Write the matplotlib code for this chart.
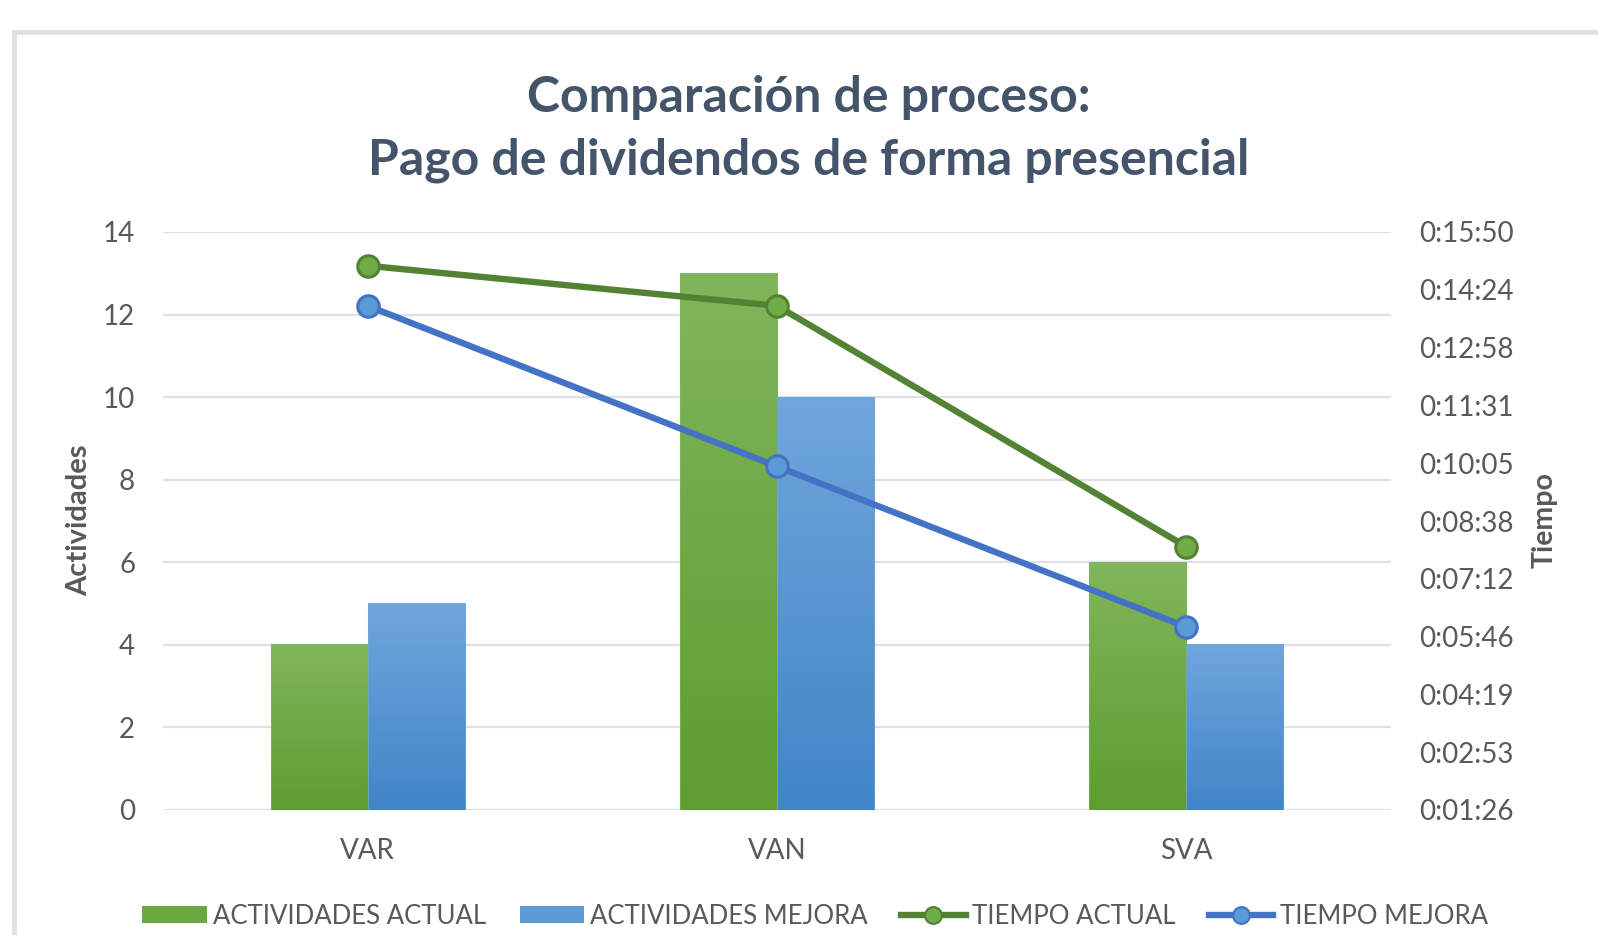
import matplotlib
matplotlib.use("Agg")
import matplotlib.pyplot as plt
from matplotlib.patches import Rectangle
from matplotlib.lines import Line2D
from matplotlib.ticker import FixedLocator, FuncFormatter
import numpy as np

categorias = ["VAR", "VAN", "SVA"]
actividades_actual = [4, 13, 6]
actividades_mejora = [5, 10, 4]
tiempo_actual = ["0:15:00", "0:14:00", "0:08:00"]
tiempo_mejora = ["0:14:00", "0:10:00", "0:06:00"]
tiempo_ticks = [0.001, 0.002, 0.003, 0.004, 0.005, 0.006, 0.007, 0.008, 0.009, 0.010, 0.011]


def a_dias(t):
    h, m, s = [int(v) for v in t.split(":")]
    return (h * 3600 + m * 60 + s) / 86400.0


def fmt_tiempo(v, pos=None):
    seg = int(round(v * 86400))
    return "%d:%02d:%02d" % (seg // 3600, (seg % 3600) // 60, seg % 60)


FONT = "Lato"
GRIS = "#595959"
TITULO = "#44546a"

plt.rcParams["font.family"] = [FONT, "DejaVu Sans"]

fig = plt.figure(figsize=(15.98, 9.35), dpi=100)
W, H = 1598, 935

# marco del grafico
fig.patches.append(Rectangle((14.5 / W, -0.1), 1.2, 1.1 - 32.5 / H,
                             transform=fig.transFigure, fill=False,
                             edgecolor="#dcdfe4", linewidth=3.5))

ax = fig.add_axes([163 / W, 1 - 810 / H, (1391 - 163) / W, (810 - 232) / H])
ax2 = ax.twinx()

x = np.arange(len(categorias))
ancho = 0.237


def barras_degradado(ax, xs, vals, c_top, c_bot):
    bars = ax.bar(xs, vals, ancho, color="none", edgecolor="none", zorder=2)
    grad = np.linspace(0, 1, 256).reshape(-1, 1)
    cmap = matplotlib.colors.LinearSegmentedColormap.from_list("g", [c_bot, c_top])
    for b in bars:
        x0, w, h = b.get_x(), b.get_width(), b.get_height()
        ax.imshow(grad, extent=[x0, x0 + w, 0, h], origin="lower", cmap=cmap,
                  aspect="auto", zorder=2)
        ax.add_patch(Rectangle((x0, 0), w, h, fill=False, edgecolor=c_top,
                               linewidth=0.8, alpha=0.6, zorder=2.1))
    return bars


barras_degradado(ax, x - ancho / 2, actividades_actual, "#80b65c", "#5e9d2f")
barras_degradado(ax, x + ancho / 2, actividades_mejora, "#70a6dc", "#4185c7")

ax.set_xlim(-0.5, len(categorias) - 0.5)
ax.set_ylim(0, 14)
ax.set_yticks(range(0, 15, 2))
ax.yaxis.grid(True, color="#dde1e7", linewidth=1.6, zorder=0)
ax.set_axisbelow(True)
ax.set_xticks(x)
ax.set_xticklabels(categorias)

ax2.set_ylim(tiempo_ticks[0], tiempo_ticks[-1])
ax2.yaxis.set_major_locator(FixedLocator(tiempo_ticks))
ax2.yaxis.set_major_formatter(FuncFormatter(fmt_tiempo))

ta = [a_dias(t) for t in tiempo_actual]
tm = [a_dias(t) for t in tiempo_mejora]
ax2.plot(x, ta, color="#548235", linewidth=4.6, marker="o", markersize=15.5,
         markerfacecolor="#70ad47", markeredgecolor="#548235", markeredgewidth=2.2, zorder=3)
ax2.plot(x, tm, color="#4472c4", linewidth=4.6, marker="o", markersize=15.5,
         markerfacecolor="#5b9bd5", markeredgecolor="#4472c4", markeredgewidth=2.2, zorder=3)

for a in (ax, ax2):
    for s in a.spines.values():
        s.set_visible(False)
    a.tick_params(length=0, labelsize=20, labelcolor=GRIS)
ax.tick_params(axis="y", pad=20)
ax.tick_params(axis="x", pad=20)
ax2.tick_params(axis="y", pad=20)

fig.text(809 / W, 1 - 97 / H, "Comparación de proceso:", ha="center", va="center",
         fontsize=36, fontweight="bold", color=TITULO)
fig.text(809 / W, 1 - 160 / H, "Pago de dividendos de forma presencial", ha="center",
         va="center", fontsize=36, fontweight="bold", color=TITULO)

fig.text(79 / W, 1 - 520 / H, "Actividades", rotation=90, ha="center", va="center",
         fontsize=21, fontweight="bold", color=GRIS)
fig.text(1545 / W, 1 - 520 / H, "Tiempo", rotation=90, ha="center", va="center",
         fontsize=20.5, fontweight="bold", color=GRIS)

handles = [
    Rectangle((0, 0), 1, 1, facecolor="#6aa840"),
    Rectangle((0, 0), 1, 1, facecolor="#5b9bd5"),
    Line2D([], [], color="#548235", linewidth=4.6, marker="o", markersize=12,
           markerfacecolor="#70ad47", markeredgecolor="#548235", markeredgewidth=1.6),
    Line2D([], [], color="#4472c4", linewidth=4.6, marker="o", markersize=12,
           markerfacecolor="#5b9bd5", markeredgecolor="#4472c4", markeredgewidth=1.6),
]
etiquetas = ["ACTIVIDADES ACTUAL", "ACTIVIDADES MEJORA", "TIEMPO ACTUAL", "TIEMPO MEJORA"]
leg = fig.legend(handles, etiquetas, loc="center", bbox_to_anchor=(815 / W, 1 - 916 / H),
                 ncol=4, frameon=False, fontsize=18.5, handlelength=2.5, handleheight=0.65,
                 handletextpad=0.25, columnspacing=1.3)
for t in leg.get_texts():
    t.set_color(GRIS)

fig.savefig("out.png", dpi=100)
